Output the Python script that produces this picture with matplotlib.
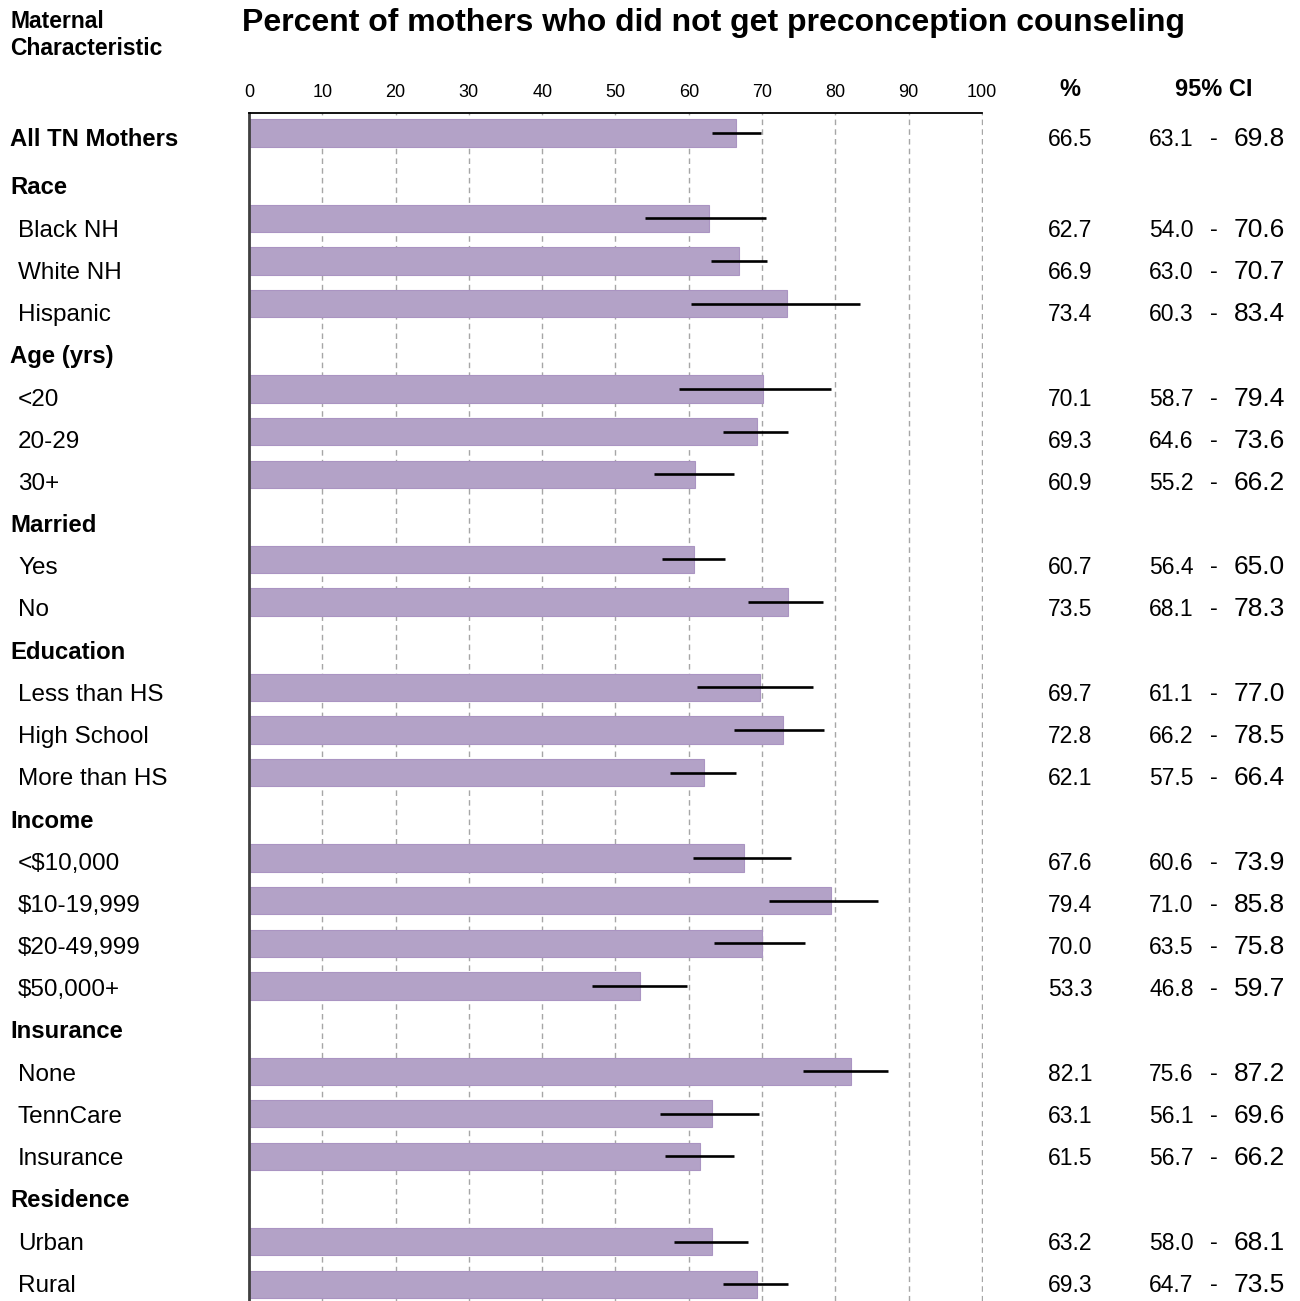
import matplotlib
matplotlib.use("Agg")
import matplotlib.pyplot as plt

# ---- data -------------------------------------------------------------
overall_label = "All TN Mothers"
overall_pct = 66.5
overall_lo = 63.1
overall_hi = 69.8

group_titles = ["Race", "Age (yrs)", "Married", "Education", "Income",
                "Insurance", "Residence"]
group_sizes = [3, 3, 2, 3, 4, 3, 2]

categories = ["Black NH", "White NH", "Hispanic",
              "<20", "20-29", "30+",
              "Yes", "No",
              "Less than HS", "High School", "More than HS",
              "<\\$10,000", "\\$10-19,999", "\\$20-49,999", "\\$50,000+",
              "None", "TennCare", "Insurance",
              "Urban", "Rural"]
percent = [62.7, 66.9, 73.4,
           70.1, 69.3, 60.9,
           60.7, 73.5,
           69.7, 72.8, 62.1,
           67.6, 79.4, 70.0, 53.3,
           82.1, 63.1, 61.5,
           63.2, 69.3]
ci_lower = [54.0, 63.0, 60.3,
            58.7, 64.6, 55.2,
            56.4, 68.1,
            61.1, 66.2, 57.5,
            60.6, 71.0, 63.5, 46.8,
            75.6, 56.1, 56.7,
            58.0, 64.7]
ci_upper = [70.6, 70.7, 83.4,
            79.4, 73.6, 66.2,
            65.0, 78.3,
            77.0, 78.5, 66.4,
            73.9, 85.8, 75.8, 59.7,
            87.2, 69.6, 66.2,
            68.1, 73.5]
x_ticks = [0, 10, 20, 30, 40, 50, 60, 70, 80, 90, 100]

# ---- row layout -------------------------------------------------------
rows = []          # (row index, label, is_header, pct, lo, hi)
rows.append((0, overall_label, True, overall_pct, overall_lo, overall_hi))
r = 1
i = 0
for title, n in zip(group_titles, group_sizes):
    rows.append((r, title, True, None, None, None))
    r += 1
    for _ in range(n):
        rows.append((r, categories[i], False, percent[i], ci_lower[i], ci_upper[i]))
        r += 1
        i += 1

bar_rows = [row for row in rows if row[3] is not None]

# ---- figure -----------------------------------------------------------
W, H = 1300, 1301
fig = plt.figure(figsize=(W / 100, H / 100), dpi=100)
plt.rcParams["font.family"] = ["Liberation Sans", "DejaVu Sans"]

def fy(px):
    return 1 - px / H

def fx(px):
    return px / W

ax = fig.add_axes([fx(249), 0, fx(983) - fx(249), (H - 113) / H])
ax.set_xlim(0, 100.14)
ax.set_ylim(27.39, -0.469)

bar_color = "#B3A2C7"
ax.barh([b[0] for b in bar_rows], [b[3] for b in bar_rows], height=0.64,
        color=bar_color, edgecolor="#AA94C2", linewidth=0.8, zorder=2)
ax.hlines([b[0] for b in bar_rows], [b[4] for b in bar_rows],
          [b[5] for b in bar_rows], color="black", linewidth=1.9, zorder=3)

ax.set_xticks(x_ticks)
ax.set_xticklabels([str(t) for t in x_ticks],
                   family=["Liberation Sans Narrow", "Liberation Sans"],
                   fontsize=13)
ax.xaxis.tick_top()
ax.tick_params(axis="x", length=0, pad=8.5)
ax.set_yticks([])
ax.xaxis.grid(True, linestyle=(0, (4, 3)), color="#A6A6A6", linewidth=1.0,
              zorder=0)
ax.set_axisbelow(True)
for side in ("right", "bottom"):
    ax.spines[side].set_visible(False)
ax.spines["top"].set_color("black")
ax.spines["top"].set_linewidth(1.3)
ax.spines["top"].set_bounds(0, 100)
ax.spines["left"].set_color("#404040")
ax.spines["left"].set_linewidth(2.0)

# ---- headings ---------------------------------------------------------
fig.text(fx(242), fy(31.5), "Percent of mothers who did not get preconception counseling",
         fontsize=23, fontweight="bold", ha="left", va="baseline")
fig.text(fx(10), fy(28.3), "Maternal", fontsize=16.5, fontweight="bold",
         ha="left", va="baseline")
fig.text(fx(10), fy(55), "Characteristic", fontsize=16.5, fontweight="bold",
         ha="left", va="baseline")
fig.text(fx(1070), fy(96), "%", fontsize=17, fontweight="bold",
         ha="center", va="baseline")
fig.text(fx(1214), fy(96), "95% CI", fontsize=17, fontweight="bold",
         ha="center", va="baseline")

# ---- row labels and value columns ------------------------------------
for idx, label, is_header, pct, lo, hi in rows:
    base = 146.5 if idx == 0 else 194.5 + (idx - 1) * 42.2
    if is_header:
        fig.text(fx(10), fy(base), label, fontsize=17.2, fontweight="bold",
                 ha="left", va="baseline")
    else:
        fig.text(fx(18), fy(base), label, fontsize=17.5, ha="left", va="baseline")
    if pct is not None:
        fig.text(fx(1070), fy(base), f"{pct:.1f}", fontsize=16.5,
                 ha="center", va="baseline")
        fig.text(fx(1149), fy(base), f"{lo:.1f}", fontsize=16.5,
                 ha="left", va="baseline")
        fig.text(fx(1214), fy(base - 1), "-", fontsize=17,
                 ha="center", va="baseline")
        fig.text(fx(1234), fy(base), f"{hi:.1f}", fontsize=19,
                 ha="left", va="baseline")

fig.savefig("out.png", dpi=100)
